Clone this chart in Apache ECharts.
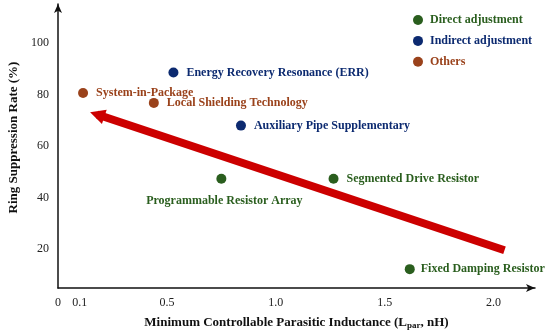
<!DOCTYPE html>
<html><head><meta charset="utf-8">
<script src="https://cdn.jsdelivr.net/npm/echarts@6/dist/echarts.min.js"></script>
<style>html,body{margin:0;padding:0;background:#fff}#c{width:550px;height:333px}</style>
</head><body><div id="c"></div>
<script>
// ---- data ----
const directNames = ['Programmable Resistor Array', 'Segmented Drive Resistor', 'Fixed Damping Resistor'];
const directX = [0.75, 1.265, 1.615];
const directY = [47.3, 47.3, 12.3];

const indirectNames = ['Energy Recovery Resonance (ERR)', 'Auxiliary Pipe Supplementary'];
const indirectX = [0.53, 0.84];
const indirectY = [88.5, 67.9];

const otherNames = ['System-in-Package', 'Local Shielding Technology'];
const otherX = [0.115, 0.44];
const otherY = [80.5, 76.7];

const xTicks = [0, 0.1, 0.5, 1.0, 1.5, 2.0];
const yTicks = [20, 40, 60, 80, 100];

const trendFrom = [2.05, 19.6];
const trendTo = [0.18, 72.2];

const seriesNames = ['Direct adjustment', 'Indirect adjustment', 'Others'];
const colors = ['#2a5e1e', '#0c2a70', '#9a421b'];

// ---- build ----
const font = '"Liberation Serif", "Times New Roman", serif';
function pts(names, xs, ys) {
  return names.map((n, i) => ({ name: n, value: [xs[i], ys[i]] }));
}
const directData = pts(directNames, directX, directY);
directData[0].label = { position: 'bottom', distance: 11, offset: [3, 0] };
directData[2].label = { distance: 6 };

function scatter(name, data, color) {
  return {
    name, type: 'scatter', data, symbolSize: 10,
    itemStyle: { color, opacity: 1 },
    label: {
      show: true, position: 'right', distance: 8,
      formatter: p => p.name,
      color, fontFamily: font, fontWeight: 'bold', fontSize: 12
    },
    z: 3
  };
}

const chart = echarts.init(document.getElementById('c'), null, { renderer: 'canvas' });
chart.setOption({
  animation: false,
  backgroundColor: '#fff',
  grid: { left: 58, right: 15, top: 4, bottom: 45, containLabel: false, outerBoundsMode: 'none' },
  legend: {
    orient: 'vertical', left: 408, top: 9,
    icon: 'circle', itemWidth: 10, itemHeight: 10, itemGap: 8.9,
    textStyle: { fontFamily: font, fontWeight: 'bold', fontSize: 12, padding: [0, 0, 0, 2] },
    data: seriesNames.map((n, i) => ({ name: n, textStyle: { color: colors[i] } }))
  },
  xAxis: {
    type: 'value', min: 0, max: 2.19,
    splitLine: { show: false },
    axisTick: { show: false },
    axisLine: { onZero: false, symbol: ['none', 'arrow'], symbolSize: [6, 9], lineStyle: { color: '#111', width: 1.5 } },
    axisLabel: {
      customValues: xTicks, margin: 9,
      formatter: v => v === 0 ? '0' : v.toFixed(1),
      color: '#222', fontFamily: font, fontSize: 12
    },
    name: 'Minimum Controllable Parasitic Inductance (L{sub|par}, nH)',
    nameLocation: 'middle', nameGap: 27,
    nameTextStyle: {
      color: '#111', fontFamily: font, fontWeight: 'bold', fontSize: 13,
      rich: { sub: { fontFamily: font, fontWeight: 'bold', fontSize: 9, padding: [6, 0, 0, 0], color: '#111' } }
    }
  },
  yAxis: {
    type: 'value', min: 5, max: 115,
    splitLine: { show: false },
    axisTick: { show: false },
    axisLine: { onZero: false, symbol: ['none', 'arrow'], symbolSize: [6, 9], lineStyle: { color: '#111', width: 1.5 } },
    axisLabel: {
      customValues: yTicks, margin: 9,
      color: '#222', fontFamily: font, fontSize: 12
    },
    name: 'Ring Suppression Rate (%)',
    nameLocation: 'middle', nameGap: 38,
    nameTextStyle: { color: '#111', fontFamily: font, fontWeight: 'bold', fontSize: 13, padding: [0, 0, 0, 17] }
  },
  series: [
    scatter(seriesNames[0], directData, colors[0]),
    scatter(seriesNames[1], pts(indirectNames, indirectX, indirectY), colors[1]),
    scatter(seriesNames[2], pts(otherNames, otherX, otherY), colors[2]),
    {
      type: 'lines', coordinateSystem: 'cartesian2d',
      symbol: ['none', 'triangle'], symbolSize: 15,
      lineStyle: { color: '#cc0000', width: 8, opacity: 1 },
      data: [{ coords: [trendFrom, trendTo] }],
      z: 2, silent: true
    }
  ]
});
</script></body></html>
